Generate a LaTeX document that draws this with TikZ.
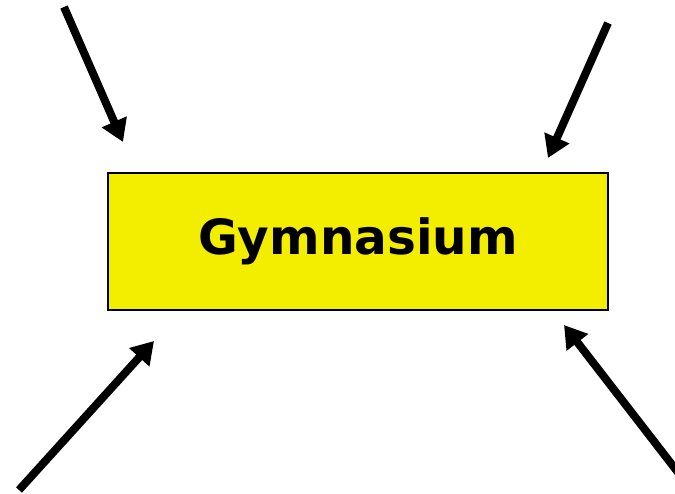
\documentclass[tikz,border=0pt]{standalone}
\usepackage{fontspec}
\setmainfont{DejaVu Sans}
\usetikzlibrary{arrows.meta}
\definecolor{boxyellow}{HTML}{F3EE00}
\tikzset{
  mainbox/.style={draw=black, line width=1.2pt, fill=boxyellow, minimum width=500pt, minimum height=137pt, inner sep=0pt,
    font=\fontsize{48.5}{50}\selectfont\bfseries},
  bigarrow/.style={line width=8pt, -{Triangle[length=22pt,width=26pt]}}
}
\begin{document}
\begin{tikzpicture}[x=1pt,y=-1pt]
\useasboundingbox (0,0) rectangle (675,493);
\node[mainbox] (box) at (358,241.5) {Gymnasium};
\coordinate (s1) at (64,7);
\coordinate (t1) at (123,142);
\coordinate (s2) at (608,23);
\coordinate (t2) at (548,158);
\coordinate (s3) at (19,490);
\coordinate (t3) at (154,341);
\coordinate (s4) at (680,475);
\coordinate (t4) at (564,325);
\draw[bigarrow] (s1) -- (t1);
\draw[bigarrow] (s2) -- (t2);
\draw[bigarrow] (s3) -- (t3);
\draw[bigarrow] (s4) -- (t4);
\end{tikzpicture}
\end{document}
